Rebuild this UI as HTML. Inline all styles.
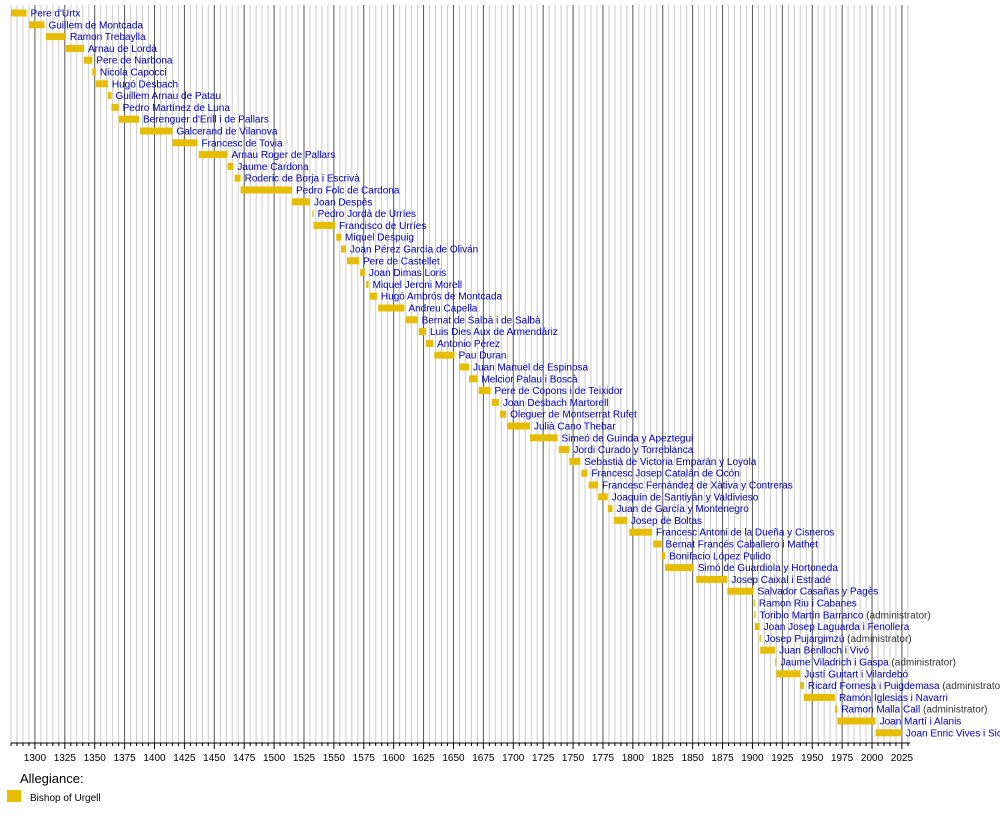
<!DOCTYPE html>
<html><head><meta charset="utf-8"><style>
html,body{margin:0;padding:0;background:#fff;overflow:hidden;width:1000px;height:822px}
svg{display:block}
text{font-family:"Liberation Sans",sans-serif}
</style></head><body>
<svg id="chart" width="1000" height="822" xmlns="http://www.w3.org/2000/svg">
<g id="grid"></g>
<g id="bars"></g>
<g id="axis"></g>
<text x="20" y="783" font-size="13" fill="#000">Allegiance:</text>
<rect x="7" y="790" width="14" height="12" fill="#e6bd00"/>
<text x="30" y="801" font-size="10" fill="#000">Bishop of Urgell</text>
</svg>
<script>
const names=["Pere d'Urtx","Guillem de Montcada","Ramon Trebaylla","Arnau de Lordà","Pere de Narbona","Nicola Capocci","Hugó Desbach","Guillem Arnau de Patau","Pedro Martínez de Luna","Berenguer d'Erill i de Pallars","Galcerand de Vilanova","Francesc de Tovia","Arnau Roger de Pallars","Jaume Cardona","Roderic de Borja i Escrivà","Pedro Folc de Cardona","Joan Despés","Pedro Jordà de Urríes","Francisco de Urríes","Miquel Despuig","Joan Pérez García de Oliván","Pere de Castellet","Joan Dimas Loris","Miquel Jeroni Morell","Hugó Ambrós de Montcada","Andreu Capella","Bernat de Salbà i de Salbà","Luis Dies Aux de Armendáriz","Antonio Pérez","Pau Duran","Juan Manuel de Espinosa","Melcior Palau i Boscà","Pere de Copons i de Teixidor","Joan Desbach Martorell","Oleguer de Montserrat Rufet","Julià Cano Thebar","Simeó de Guinda y Apeztegui","Jordi Curado y Torreblanca","Sebastià de Victoria Emparán y Loyola","Francesc Josep Catalán de Ocón","Francesc Fernández de Xàtiva y Contreras","Joaquín de Santiyán y Valdivieso","Juan de García y Montenegro","Josep de Boltas","Francesc Antoni de la Dueña y Cisneros","Bernat Francés Caballero i Mathet","Bonifacio López Pulido","Simó de Guardiola y Hortoneda","Josep Caixal i Estradé","Salvador Casañas y Pagès","Ramon Riu i Cabanes","Toribio Martín Barranco","Joan Josep Laguarda i Fenollera","Josep Pujargimzú","Juan Benlloch i Vivó","Jaume Viladrich i Gaspa","Justí Guitart i Vilardebó","Ricard Fornesa i Puigdemasa","Ramón Iglesias i Navarri","Ramon Malla Call","Joan Martí i Alanis","Joan Enric Vives i Sicília"];
const notes=["","","","","","","","","","","","","","","","","","","","","","","","","","","","","","","","","","","","","","","","","","","","","","","","","","","","(administrator)","","(administrator)","","(administrator)","","(administrator)","","(administrator)","",""];
const startYears=[1269,1295,1309,1326,1341,1348,1351,1361,1364,1370,1388,1415,1437,1461,1467,1472,1515,1532,1533,1552,1556,1561,1572,1577,1580,1587,1610,1621,1627,1634,1655,1663,1671,1682,1689,1695,1714,1738,1747,1757,1763,1771,1779,1784,1797,1817,1824,1827,1853,1879,1901,1901.5,1902,1906,1906.5,1919,1920,1940,1943,1969,1971,2003];
const endYears=[1293,1308,1326,1341,1348,1351,1361,1364,1370,1387,1415,1436,1461,1466,1472,1515,1530,1533,1551,1556,1560,1571,1576,1579,1586,1609,1620,1627,1633,1651,1663,1670,1681,1688,1694,1714,1737,1747,1756,1762,1771,1779,1783,1795,1816,1824,1827,1851,1879,1901,1901.5,1902,1906,1906.5,1919,1920,1940,1943,1969,1971,2003,2025];
const tickYears=[1300,1325,1350,1375,1400,1425,1450,1475,1500,1525,1550,1575,1600,1625,1650,1675,1700,1725,1750,1775,1800,1825,1850,1875,1900,1925,1950,1975,2000,2025];
const NS="http://www.w3.org/2000/svg";
const X0=11,Y0=1280,K=(902-35)/725,YEND=2032;
function x(v){return X0+(Math.max(v,Y0)-Y0)*K;}
function rowY(i){return 13+i*11.8;}
const grid=document.getElementById('grid'),bars=document.getElementById('bars'),axis=document.getElementById('axis');
function mk(tag,attrs,parent){const e=document.createElementNS(NS,tag);for(const k in attrs)e.setAttribute(k,attrs[k]);parent.appendChild(e);return e;}
for(let yr=1280;yr<=YEND;yr+=5){
  const major=yr%25===0;
  const l=mk('line',{x1:x(yr),x2:x(yr),y1:5,y2:743,stroke:major?'#555':'#ccc','stroke-width':1},grid);
  
  
  const t=mk('line',{x1:x(yr),x2:x(yr),y1:743,y2:major?749:746,stroke:'#000','stroke-width':1},axis);
  
  
}
const ax=mk('line',{x1:X0,x2:x(YEND),y1:743,y2:743,stroke:'#000','stroke-width':1},axis);


tickYears.forEach(v=>{
  const t=mk('text',{x:x(v),y:761,'font-size':10,'text-anchor':'middle',fill:'#000'},axis);
  t.textContent=v;
  
  
});
names.forEach((n,i)=>{
  const x1=x(startYears[i]),x2=x(endYears[i]);
  const w=Math.max(x2-x1,1.3);
  const r=mk('rect',{x:x1,y:rowY(i)-3.5,width:w,height:7,fill:'#e6bd00'},bars);
  
  
  const t=mk('text',{x:x1+w+4,y:rowY(i)+3.5,'font-size':10,fill:'#0000c0'},bars);
  t.textContent=n;
  
  
  if(notes[i]){const s=mk('tspan',{fill:'#333'},t);s.textContent=' '+notes[i];}
});
</script>
</body></html>
